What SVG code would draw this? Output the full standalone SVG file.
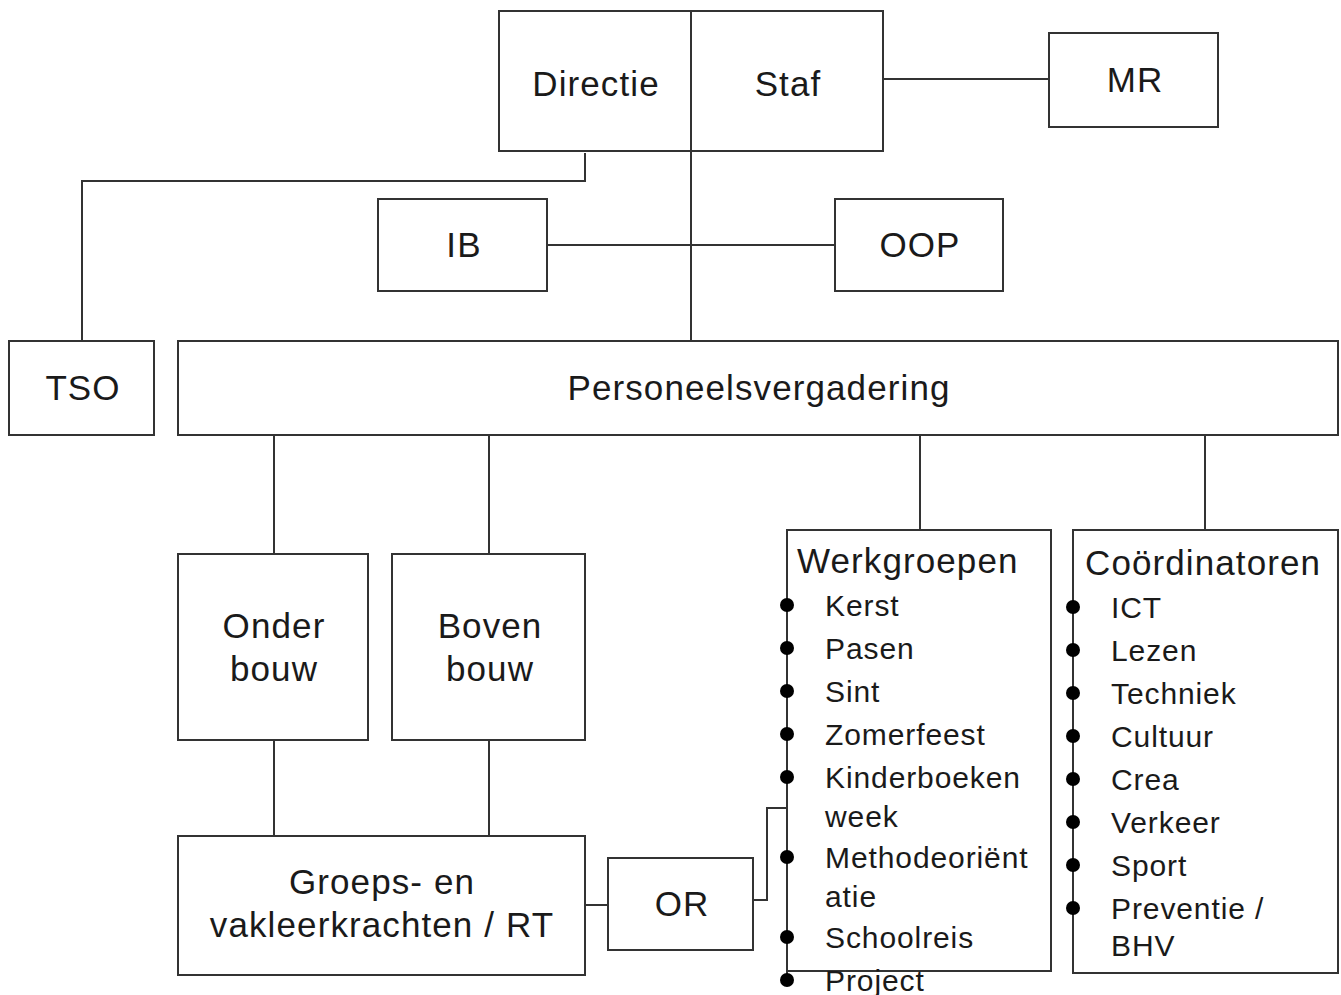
<svg xmlns="http://www.w3.org/2000/svg" width="1341" height="995" viewBox="0 0 1341 995">
<style>
.box{fill:#fff;stroke:#333;stroke-width:2}
.ln{fill:none;stroke:#333;stroke-width:2}
.t{font-family:"Liberation Sans",Arial,sans-serif;font-size:35px;letter-spacing:1.1px;fill:#1a1a1a;text-anchor:middle}
.it{font-family:"Liberation Sans",Arial,sans-serif;font-size:30px;letter-spacing:0.9px;fill:#1a1a1a}
.ti{font-family:"Liberation Sans",Arial,sans-serif;font-size:35px;letter-spacing:1.1px;fill:#1a1a1a}
.dot{fill:#000}
</style>
<rect width="1341" height="995" fill="#fff"/>
<g id="connectors">
<path class="ln" d="M585 153 V181 H82 V341"/>
<path class="ln" d="M691 151 V341"/>
<path class="ln" d="M547 245 H835"/>
<path class="ln" d="M883 79 H1049"/>
<path class="ln" d="M274 435 V554"/>
<path class="ln" d="M489 435 V554"/>
<path class="ln" d="M920 435 V530"/>
<path class="ln" d="M1205 435 V530"/>
<path class="ln" d="M274 740 V836"/>
<path class="ln" d="M489 740 V836"/>
<path class="ln" d="M585 905 H608"/>
<path class="ln" d="M753 900 H767 V808 H787"/>
</g>
<g id="directie-staf">
<rect class="box" x="499" y="11" width="384" height="140"/>
<line class="ln" x1="691" y1="11" x2="691" y2="151"/>
<text class="t" x="596" y="96">Directie</text>
<text class="t" x="788" y="96">Staf</text>
</g>
<g id="mr">
<rect class="box" x="1049" y="33" width="169" height="94"/>
<text class="t" x="1135" y="92">MR</text>
</g>
<g id="ib">
<rect class="box" x="378" y="199" width="169" height="92"/>
<text class="t" x="464" y="257">IB</text>
</g>
<g id="oop">
<rect class="box" x="835" y="199" width="168" height="92"/>
<text class="t" x="920" y="257">OOP</text>
</g>
<g id="tso">
<rect class="box" x="9" y="341" width="145" height="94"/>
<text class="t" x="83" y="400">TSO</text>
</g>
<g id="personeelsvergadering">
<rect class="box" x="178" y="341" width="1160" height="94"/>
<text class="t" x="759" y="400">Personeelsvergadering</text>
</g>
<g id="onderbouw">
<rect class="box" x="178" y="554" width="190" height="186"/>
<text class="t" x="274" y="638">Onder</text>
<text class="t" x="274" y="681">bouw</text>
</g>
<g id="bovenbouw">
<rect class="box" x="392" y="554" width="193" height="186"/>
<text class="t" x="490" y="638">Boven</text>
<text class="t" x="490" y="681">bouw</text>
</g>
<g id="groepsleerkrachten">
<rect class="box" x="178" y="836" width="407" height="139"/>
<text class="t" x="382" y="894">Groeps- en</text>
<text class="t" x="382" y="937">vakleerkrachten / RT</text>
</g>
<g id="or">
<rect class="box" x="608" y="858" width="145" height="92"/>
<text class="t" x="682" y="916">OR</text>
</g>
<g id="werkgroepen">
<rect class="box" x="787" y="530" width="264" height="441"/>
<line class="ln" x1="787" y1="530" x2="787" y2="980"/>
<text class="ti" x="797" y="573">Werkgroepen</text>
<circle class="dot" cx="787" cy="605" r="7"/><text class="it" x="825" y="616">Kerst</text>
<circle class="dot" cx="787" cy="648" r="7"/><text class="it" x="825" y="659">Pasen</text>
<circle class="dot" cx="787" cy="691" r="7"/><text class="it" x="825" y="702">Sint</text>
<circle class="dot" cx="787" cy="734" r="7"/><text class="it" x="825" y="745">Zomerfeest</text>
<circle class="dot" cx="787" cy="777" r="7"/><text class="it" x="825" y="788">Kinderboeken</text>
<text class="it" x="825" y="827">week</text>
<circle class="dot" cx="787" cy="857" r="7"/><text class="it" x="825" y="868">Methodeoriënt</text>
<text class="it" x="825" y="907">atie</text>
<circle class="dot" cx="787" cy="937" r="7"/><text class="it" x="825" y="948">Schoolreis</text>
<circle class="dot" cx="787" cy="980" r="7"/><text class="it" x="825" y="991">Project</text>
</g>
<g id="coordinatoren">
<rect class="box" x="1073" y="530" width="265" height="443"/>
<text class="ti" x="1085" y="575">Coördinatoren</text>
<circle class="dot" cx="1073" cy="607" r="7"/><text class="it" x="1111" y="618">ICT</text>
<circle class="dot" cx="1073" cy="650" r="7"/><text class="it" x="1111" y="661">Lezen</text>
<circle class="dot" cx="1073" cy="693" r="7"/><text class="it" x="1111" y="704">Techniek</text>
<circle class="dot" cx="1073" cy="736" r="7"/><text class="it" x="1111" y="747">Cultuur</text>
<circle class="dot" cx="1073" cy="779" r="7"/><text class="it" x="1111" y="790">Crea</text>
<circle class="dot" cx="1073" cy="822" r="7"/><text class="it" x="1111" y="833">Verkeer</text>
<circle class="dot" cx="1073" cy="865" r="7"/><text class="it" x="1111" y="876">Sport</text>
<circle class="dot" cx="1073" cy="908" r="7"/><text class="it" x="1111" y="919">Preventie /</text>
<text class="it" x="1111" y="956">BHV</text>
</g>
</svg>
